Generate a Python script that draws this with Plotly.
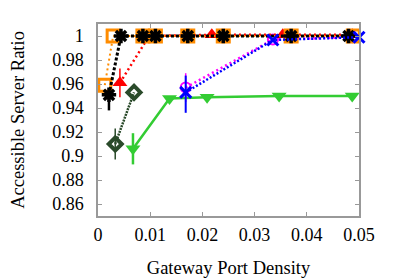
import plotly.graph_objects as go

# ---- data ----
orange_x = [0.0013, 0.0029, 0.0086, 0.0110, 0.0172, 0.0240, 0.0370, 0.0489]
orange_y = [0.959, 1.0, 1.0, 1.0, 1.0, 1.0, 1.0, 1.0]

black_x = [0.0021, 0.0044, 0.0086, 0.0110, 0.0172, 0.0240, 0.0370, 0.0480]
black_y = [0.951, 1.0, 1.0, 1.0, 1.0, 1.0, 1.0, 1.0]
black_err_minus = [0.013, 0, 0, 0, 0, 0, 0, 0]

red_x = [0.0042, 0.0098, 0.0218, 0.0354, 0.0487]
red_y = [0.961, 1.0, 1.001, 1.001, 1.001]
red_err = [0.012, 0, 0, 0, 0]

dkgreen_x = [0.0033, 0.0069]
dkgreen_y = [0.910, 0.953]
dkgreen_err = [0.013, 0]

green_x = [0.0067, 0.0137, 0.0209, 0.0347, 0.0487]
green_y = [0.906, 0.948, 0.949, 0.950, 0.950]
green_err = [0.013, 0, 0, 0, 0]

magenta_x = [0.0168, 0.0335, 0.0487]
magenta_y = [0.957, 0.997, 0.999]
magenta_err = [0.012, 0, 0]

blue_x = [0.0168, 0.0335, 0.0500]
blue_y = [0.953, 0.9967, 0.999]
blue_err_plus = [0.014, 0, 0]
blue_err_minus = [0.017, 0, 0]

x_ticks = [0, 0.01, 0.02, 0.03, 0.04, 0.05]
y_ticks = [0.86, 0.88, 0.9, 0.92, 0.94, 0.96, 0.98, 1.0]

fig = go.Figure()

def add(x, y, color, symbol, size, dash, lw, mlw=0, err=None):
    marker = dict(symbol=symbol, size=size, color=color,
                  line=dict(color=color, width=mlw))
    tr = go.Scatter(x=x, y=y, mode="lines+markers",
                    line=dict(color=color, width=lw, dash=dash),
                    marker=marker, cliponaxis=False, showlegend=False)
    if err is not None:
        tr.error_y = err
    fig.add_trace(tr)

add(green_x, green_y, "#33cc33", "triangle-down", 13, "solid", 2.5,
    err=dict(type="data", array=green_err, color="#33cc33", thickness=2.5, width=0))
add(dkgreen_x, dkgreen_y, "#2a4a2a", "diamond-open", 10, "2px,1px", 2.5, mlw=4,
    err=dict(type="data", array=dkgreen_err, color="#2a4a2a", thickness=1.5, width=0))
add(magenta_x, magenta_y, "#ff00ff", "circle-open", 10, "2px,3px", 2.5, mlw=2,
    err=dict(type="data", array=magenta_err, color="#ff00ff", thickness=1.5, width=0))
add(red_x, red_y, "#ff0000", "triangle-up", 13, "2px,3px", 2.5,
    err=dict(type="data", array=red_err, color="#ff0000", thickness=1.5, width=0))
add(orange_x, orange_y, "#ff8c00", "square-open", 12, "2px,3px", 2, mlw=3)
add(black_x, black_y, "#000000", "asterisk-open", 12, "3px,2px", 3, mlw=3.5,
    err=dict(type="data", symmetric=False, array=[0]*len(black_x),
             arrayminus=black_err_minus, color="#000000", thickness=2.5, width=0))
add(blue_x, blue_y, "#0000ff", "x-thin-open", 11, "2px,2px", 2.5, mlw=3,
    err=dict(type="data", symmetric=False, array=blue_err_plus,
             arrayminus=blue_err_minus, color="#0000ff", thickness=2, width=0))

tick_font = dict(family="Liberation Serif, Times New Roman, serif", size=18, color="#000")
title_font = dict(family="Liberation Serif, Times New Roman, serif", size=18.5, color="#000")
axis_common = dict(showline=True, linecolor="#999999", linewidth=1.5, mirror="ticks",
                   ticks="inside", ticklen=4, tickcolor="#999999", tickwidth=1,
                   showgrid=False, zeroline=False, tickfont=tick_font, automargin=False)

fig.update_xaxes(range=[0, 0.05], tickvals=x_ticks,
                 ticktext=["0", "0.01", "0.02", "0.03", "0.04", "0.05"],
                 title=dict(text="Gateway Port Density", font=title_font, standoff=17),
                 ticklabelstandoff=2, **axis_common)
fig.update_yaxes(range=[0.85, 1.01], tickvals=y_ticks,
                 ticktext=["0.86", "0.88", "0.9", "0.92", "0.94", "0.96", "0.98", "1"],
                 title=dict(text="Accessible Server Ratio", font=title_font, standoff=30),
                 ticklabelstandoff=9, **axis_common)

# page body has an 8px margin, so the figure is 8px smaller than the window
fig.update_layout(width=391, height=271,
                  margin=dict(l=90, r=40, t=16, b=63, autoexpand=False),
                  plot_bgcolor="white", paper_bgcolor="white", font=tick_font)

fig.write_html("out.html")
